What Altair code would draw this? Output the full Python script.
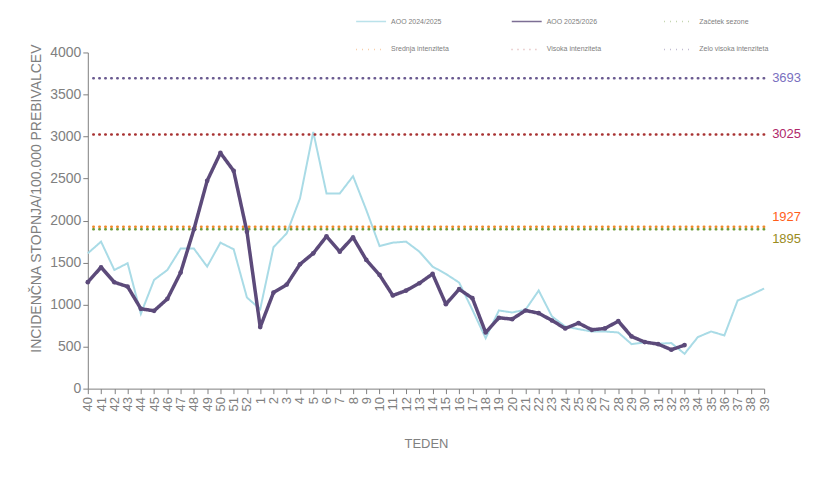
import altair as alt
import pandas as pd

weeks = ["40", "41", "42", "43", "44", "45", "46", "47", "48", "49", "50", "51", "52",
         "1", "2", "3", "4", "5", "6", "7", "8", "9", "10", "11", "12", "13", "14", "15",
         "16", "17", "18", "19", "20", "21", "22", "23", "24", "25", "26", "27", "28", "29",
         "30", "31", "32", "33", "34", "35", "36", "37", "38", "39"]

aoo_2425 = [1610, 1749, 1412, 1492, 890, 1294, 1412, 1666, 1666, 1452, 1737, 1658, 1084,
            946, 1682, 1848, 2263, 3054, 2322, 2322, 2528, 2125, 1697, 1737, 1749, 1630,
            1452, 1365, 1262, 938, 601, 930, 906, 938, 1167, 859, 740, 708, 680, 680, 668,
            530, 550, 534, 542, 415, 613, 680, 633, 1048, 1116, 1191]

aoo_2526 = [1267, 1444, 1266, 1214, 950, 926, 1068, 1381, 1895, 2473, 2805, 2591, 1867,
            732, 1143, 1238, 1480, 1610, 1812, 1630, 1800, 1531, 1353, 1108, 1167, 1254,
            1365, 1005, 1183, 1076, 668, 843, 827, 930, 898, 811, 716, 780, 700, 716, 803,
            621, 554, 530, 463, 518]

threshold_names = ["Začetek sezone", "Srednja intenziteta", "Visoka intenziteta", "Zelo visoka intenziteta"]
threshold_values = [1895, 1927, 3025, 3693]
threshold_label_colors = ["#9a8c1e", "#ff5e1a", "#b0286a", "#7a70c0"]

season_names = ["AOO 2024/2025", "AOO 2025/2026"]

series_domain = season_names + threshold_names
series_colors = ["#a9dbe6", "#5c4a7a", "#6f9a3a", "#f08a2c", "#a83232", "#6a5a90"]
series_dash = [[1, 0], [1, 0], [0.5, 5.5], [0.5, 5.5], [0.5, 5.5], [0.5, 5.5]]

df_a = pd.DataFrame({"week": weeks, "value": aoo_2425, "series": season_names[0]})
df_b = pd.DataFrame({"week": weeks[:len(aoo_2526)], "value": aoo_2526, "series": season_names[1]})
df_t = pd.DataFrame({"series": threshold_names, "value": threshold_values,
                     "week": [weeks[-1]] * 4, "label": [str(v) for v in threshold_values]})

GRAY = "#808080"
FONT = "Liberation Sans"

x_enc = alt.X("week:N", sort=weeks,
              scale=alt.Scale(type="point", padding=0),
              axis=alt.Axis(title="TEDEN", labelAngle=270, labelFontSize=13, grid=False,
                            labelColor=GRAY, titleColor=GRAY, titleFontSize=13,
                            titleFontWeight="normal", titlePadding=27,
                            domainColor=GRAY, tickColor=GRAY, labelPadding=3,
                            labelFont=FONT, titleFont=FONT))
y_enc = alt.Y("value:Q", scale=alt.Scale(domain=[0, 4000]),
              axis=alt.Axis(title="INCIDENČNA  STOPNJA/100.000  PREBIVALCEV",
                            values=list(range(0, 4001, 500)), grid=False, format="d",
                            labelFontSize=14, labelColor=GRAY, titleColor=GRAY,
                            titleFontSize=14, titleFontWeight="normal", titlePadding=6,
                            titleY=146,
                            domainColor=GRAY, tickColor=GRAY, labelFont=FONT, titleFont=FONT))

color_enc = alt.Color("series:N", scale=alt.Scale(domain=series_domain, range=series_colors),
                      legend=alt.Legend(title=None, orient="none", legendX=268, legendY=-47,
                                        columns=3, symbolType="stroke", symbolSize=900,
                                        symbolStrokeWidth=1.5, labelFontSize=7,
                                        labelColor=GRAY, labelFont=FONT, columnPadding=60,
                                        rowPadding=9, direction="horizontal",
                                        symbolOpacity=0.8))
dash_enc = alt.StrokeDash("series:N", scale=alt.Scale(domain=series_domain, range=series_dash),
                          legend=None)

rules = alt.Chart(df_t).mark_rule(strokeWidth=2.5, strokeCap="round").encode(
    y=alt.Y("value:Q"), color=color_enc, strokeDash=dash_enc)

line_a = alt.Chart(df_a).mark_line(strokeWidth=2).encode(
    x=x_enc, y=y_enc, color=color_enc, strokeDash=dash_enc)
line_b = alt.Chart(df_b).mark_line(strokeWidth=3.5, strokeJoin="round").encode(
    x=x_enc, y=y_enc, color=color_enc, strokeDash=dash_enc)
pts_b = alt.Chart(df_b).mark_circle(size=22, color="#5c4a7a", opacity=1).encode(
    x=x_enc, y=y_enc)

texts = []
offsets = [10, -10, 0, 0]
for name, val, col, off in zip(threshold_names, threshold_values, threshold_label_colors, offsets):
    d = df_t[df_t["series"] == name]
    texts.append(alt.Chart(d).mark_text(align="left", baseline="middle", dx=8, dy=off,
                                        fontSize=13, font=FONT, color=col).encode(
        x=alt.X("week:N", sort=weeks), y=alt.Y("value:Q"), text="label:N"))

chart = alt.layer(line_a, rules, line_b, pts_b, *texts).resolve_scale(
    color="shared", strokeDash="shared").properties(
    width=678, height=337,
    autosize=alt.AutoSizeParams(type="none"),
    padding={"left": 80, "top": 44, "right": 60, "bottom": 80},
).configure(font=FONT).configure_view(stroke="transparent", strokeWidth=0).configure_axis(
    grid=False)

chart.save("out.html", embed_options={"renderer": "svg", "actions": False})
